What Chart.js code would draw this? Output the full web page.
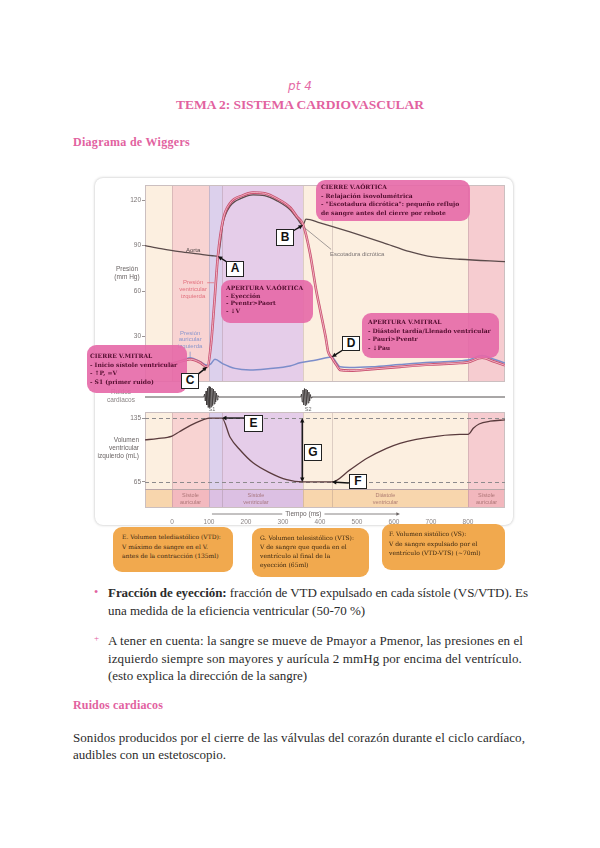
<!DOCTYPE html>
<html lang="es">
<head>
<meta charset="utf-8">
<script src="https://cdn.jsdelivr.net/npm/chart.js@4.4.1/dist/chart.umd.min.js"></script>
<style>
  html, body { margin:0; padding:0; background:#fff; }
  body { width:600px; height:848px; position:relative; overflow:hidden; font-family:"Liberation Serif", serif; color:#2b2b2b; }
  .abs { position:absolute; white-space:nowrap; }
  .pk { color:#e2629f; }
  .txt { font-size:13px; line-height:16px; }
  #frame { position:absolute; left:95px; top:178px; width:418px; height:347px; background:#fff; border-radius:8px; box-shadow:0 0 3px rgba(0,0,0,0.28); }
  #fig { position:absolute; left:80px; top:172px; width:445px; height:364px; }
  .note { position:absolute; box-sizing:border-box; background:rgba(229,104,167,0.9); border-radius:9px; color:#520d2e; font:bold 6px "DejaVu Serif", serif; white-space:nowrap; overflow:hidden; }
  .vol { position:absolute; box-sizing:border-box; background:#f1a94e; border-radius:9px; color:#3b2812; font:6px "DejaVu Serif", serif; white-space:nowrap; }
  .tag { position:absolute; box-sizing:border-box; background:#fff; border:1.5px solid #222; font:bold 12px "Liberation Sans", Arial, sans-serif; text-align:center; color:#111; }
</style>
</head>
<body>

<div class="abs pk" style="left:0;width:600px;text-align:center;top:79px;font:italic 12px 'DejaVu Sans',sans-serif;color:#e56aa6;">pt 4</div>
<div class="abs pk" data-w="248" style="left:176px;top:97px;font-weight:bold;font-size:13.5px;">TEMA 2: SISTEMA CARDIOVASCULAR</div>
<div class="abs pk" data-w="117" style="left:73px;top:135px;font-weight:bold;font-size:12px;">Diagrama de Wiggers</div>

<div id="frame"></div>
<div id="fig"><canvas id="wiggers" width="445" height="364"></canvas></div>

<!-- notas rosas -->
<div class="note" style="left:316px;top:180px;width:154px;height:41px;padding:3px 0 0 5px;line-height:8.7px;">CIERRE V.AÓRTICA<br>- Relajación isovolumétrica<br>- "Escotadura dicrótica": pequeño reflujo<br>de sangre antes del cierre por rebote</div>
<div class="note" style="left:221px;top:280px;width:92px;height:43px;padding:4px 0 0 5px;line-height:7.7px;">APERTURA V.AÓRTICA<br>- Eyección<br>- Pventr&gt;Paort<br>- ↓V</div>
<div class="note" style="left:87px;top:345px;width:100px;height:48px;padding:7px 0 0 3px;line-height:8.7px;">CIERRE V.MITRAL<br>- Inicio sístole ventricular<br>- ↑P, =V<br>- S1 (primer ruido)</div>
<div class="note" style="left:362px;top:313px;width:137px;height:45px;padding:5px 0 0 6px;line-height:8.7px;">APERTURA V.MITRAL<br>- Diástole tardía/Llenado ventricular<br>- Pauri&gt;Pventr<br>- ↓Pau</div>

<!-- letras -->
<div class="tag" style="left:226px;top:261px;width:18px;height:16px;line-height:13px;">A</div>
<div class="tag" style="left:276px;top:229px;width:18px;height:17px;line-height:14px;">B</div>
<div class="tag" style="left:181px;top:373px;width:18px;height:16px;line-height:13px;">C</div>
<div class="tag" style="left:342px;top:336px;width:18px;height:15px;line-height:12px;">D</div>
<div class="tag" style="left:244px;top:415px;width:19px;height:17px;line-height:14px;">E</div>
<div class="tag" style="left:349px;top:474px;width:18px;height:15px;line-height:12px;">F</div>
<div class="tag" style="left:304px;top:444px;width:18px;height:17px;line-height:14px;">G</div>

<!-- notas naranjas -->
<div class="vol" style="left:113px;top:527px;width:120px;height:45px;padding:5px 0 0 9px;line-height:9.5px;">E. Volumen telediastólico (VTD):<br>V máximo de sangre en el V.<br>antes de la contracción (135ml)</div>
<div class="vol" style="left:252px;top:528px;width:117px;height:49px;padding:5px 0 0 8px;line-height:9px;">G. Volumen telesistólico (VTS):<br>V de sangre que queda en el<br>ventrículo al final de la<br>eyección (65ml)</div>
<div class="vol" style="left:382px;top:524px;width:123px;height:46px;padding:5px 0 0 7px;line-height:9.5px;">F. Volumen sistólico (VS):<br>V de sangre expulsado por el<br>ventrículo (VTD-VTS) (~70ml)</div>

<!-- texto -->
<div class="abs pk" style="left:94px;top:585px;font-size:12px;">•</div>
<div class="abs txt" data-w="420" style="left:108px;top:585px;"><b>Fracción de eyección:</b> fracción de VTD expulsado en cada sístole (VS/VTD). Es</div>
<div class="abs txt" data-w="257" style="left:108px;top:603px;">una medida de la eficiencia ventricular (50-70 %)</div>
<div class="abs pk" style="left:94px;top:633px;font-size:9px;">+</div>
<div class="abs txt" data-w="415" style="left:108px;top:633px;">A tener en cuenta: la sangre se mueve de Pmayor a Pmenor, las presiones en el</div>
<div class="abs txt" data-w="414" style="left:108px;top:651px;">izquierdo siempre son mayores y aurícula 2 mmHg por encima del ventrículo.</div>
<div class="abs txt" data-w="199" style="left:108px;top:668px;">(esto explica la dirección de la sangre)</div>
<div class="abs pk" data-w="90" style="left:73px;top:698px;font-weight:bold;font-size:12px;">Ruidos cardiacos</div>
<div class="abs txt" data-w="452" style="left:73px;top:730px;">Sonidos producidos por el cierre de las válvulas del corazón durante el ciclo cardíaco,</div>
<div class="abs txt" data-w="153" style="left:73px;top:747px;">audibles con un estetoscopio.</div>

<script>
/* ---------- Datos (ms, mmHg, mL) ---------- */
const timeMin = -73, timeMax = 900;
const timeTicks = [0, 100, 200, 300, 400, 500, 600, 700, 800];
const pressureTicks = [30, 60, 90, 120];
const volumeTicks = [65, 135];

const aortaTime = [-73, -30, 20, 70, 110, 124, 138, 157, 190, 219, 250, 284, 320, 338, 354, 362, 400, 481, 570, 643, 705, 778, 900];
const aortaP    = [90, 88, 86, 84.5, 83.3, 83, 105, 116, 121.5, 123.5, 123, 119.5, 113.5, 108, 103.5, 107.5, 105, 99, 92, 86, 82.5, 81, 79.5];

const ventTime = [-73, 0, 30, 50, 75, 95, 105, 115, 124, 138, 157, 190, 219, 250, 284, 320, 338, 354, 373, 390, 400, 415, 422, 432, 445, 454, 480, 540, 616, 700, 778, 800, 838, 870, 900];
const ventP    = [11, 12, 14, 15, 13, 10, 24, 54, 83, 107, 118, 123, 125, 124.5, 121, 115, 109, 104, 85, 60, 48, 30, 20, 16, 11, 8, 7.5, 8.5, 10, 11.5, 12.5, 13, 16, 13.5, 11];

const atrTime = [-73, 0, 30, 50, 75, 95, 105, 116, 138, 170, 211, 260, 319, 346, 390, 432, 445, 454, 480, 540, 616, 700, 778, 800, 838, 870, 900];
const atrP    = [11.5, 12.5, 14.5, 16, 13.5, 11, 12, 15, 12, 9, 8, 8.8, 10.5, 12.7, 14.5, 16.5, 12.5, 10, 9.5, 10, 11.5, 13, 14, 14.5, 17.5, 15, 12.5];

const volTime = [-73, -40, 0, 20, 50, 80, 100, 135, 157, 184, 219, 265, 310, 354, 432, 480, 527, 580, 616, 660, 720, 778, 800, 815, 830, 860, 900];
const volV    = [111, 112.5, 115.3, 120, 127, 132.5, 135, 135, 114, 100, 86, 75, 67.5, 65, 65, 78, 91, 101.8, 107.3, 111.6, 115.3, 117, 117, 124, 128.5, 131.5, 133];

// ruidos S1 y S2
const soundTime = [-73,
  86, 88, 90, 92, 94, 96, 98, 100, 102, 104, 106, 108, 110, 112, 114, 116, 118, 120, 122, 124, 126,
  348, 350, 352, 354, 356, 358, 360, 362, 364, 366, 368, 370, 372, 374, 376, 378,
  900];
const soundAmp = [0,
  0, 0.3, -0.4, 0.6, -0.8, 0.9, -1.05, 1.05, -1.05, 1, -0.95, 0.9, -0.85, 0.8, -0.7, 0.6, -0.5, 0.4, -0.3, 0.15, 0,
  0, 0.3, -0.5, 0.7, -0.8, 0.85, -0.85, 0.8, -0.75, 0.7, -0.6, 0.5, -0.4, 0.25, -0.1, 0,
  0];

// fases del ciclo
const phaseBounds = [-73, 0, 100, 354, 800, 900];
const phaseNames  = [null, ["Sístole", "auricular"], ["Sístole", "ventricular"], ["Diástole", "ventricular"], ["Sístole", "auricular"]];
const eventLines  = [0, 100, 135, 354, 432, 800];

/* ---------- Estilos ---------- */
const phaseFill = ["#fcefe0", "#f8d3d2", "#e5cde9", "#fcefe0", "#f6ccd0"];
const bandFill  = ["#f8d6ad", "#f3b9bf", "#dcc0e3", "#f8d6ad", "#f2b7bd"];
const stripFill = "#dcd0ec";   // contracción isovolumétrica
const bandTop = 57.3;          // mL: límite de la franja de fases
const axisWidth = 65;

Chart.defaults.font.family = '"Liberation Sans", Arial, sans-serif';

const pts = (xs, ys) => xs.map((t, i) => ({ x: t, y: ys[i] }));
const px = (s, v) => s.getPixelForValue(v);

function arrow(ctx, x0, y0, x1, y1, head = 5) {
  const a = Math.atan2(y1 - y0, x1 - x0);
  ctx.beginPath(); ctx.moveTo(x0, y0); ctx.lineTo(x1 - Math.cos(a) * head * 0.8, y1 - Math.sin(a) * head * 0.8); ctx.stroke();
  ctx.beginPath();
  ctx.moveTo(x1, y1);
  ctx.lineTo(x1 - head * Math.cos(a - 0.45), y1 - head * Math.sin(a - 0.45));
  ctx.lineTo(x1 - head * Math.cos(a + 0.45), y1 - head * Math.sin(a + 0.45));
  ctx.closePath(); ctx.fill();
}

function lines(ctx, arr, x, y, lh) {
  arr.forEach((s, i) => ctx.fillText(s, x, y + i * lh));
}

// flechas de las letras: punto (datos) + desplazamiento del inicio (px)
const pointers = [
  { axis: "yP", t: 124, v: 83,    dx: 11,  dy: 7 },   // A
  { axis: "yP", t: 354, v: 103.6, dx: -10, dy: 6 },   // B
  { axis: "yP", t: 95,  v: 10,    dx: -10, dy: 8 },   // C
  { axis: "yP", t: 432, v: 16.5,  dx: 11,  dy: -7 },  // D
  { axis: "yV", t: 135, v: 135,   dx: 22,  dy: 0 },   // E
  { axis: "yV", t: 432, v: 65,    dx: 17,  dy: 1 },   // F
];

const wiggersPlugin = {
  id: "wiggers",
  beforeDatasetsDraw(chart) {
    const { ctx, scales: { x, yP, yV } } = chart;
    const L = px(x, timeMin), R = px(x, timeMax);
    const vMid = px(yV, bandTop);
    ctx.save();
    phaseBounds.slice(0, -1).forEach((t0, i) => {
      const x0 = px(x, t0), x1 = px(x, phaseBounds[i + 1]);
      ctx.fillStyle = phaseFill[i];
      ctx.fillRect(x0, yP.top, x1 - x0, yP.bottom - yP.top);
      ctx.fillRect(x0, yV.top, x1 - x0, vMid - yV.top);
      ctx.fillStyle = bandFill[i];
      ctx.fillRect(x0, vMid, x1 - x0, yV.bottom - vMid);
    });
    // franja isovolumétrica
    const s0 = px(x, 100), s1 = px(x, 135);
    ctx.fillStyle = stripFill;
    ctx.fillRect(s0, yP.top, s1 - s0, yP.bottom - yP.top);
    ctx.fillRect(s0, yV.top, s1 - s0, vMid - yV.top);

    ctx.strokeStyle = "rgba(140,115,120,0.35)";
    ctx.lineWidth = 0.8;
    eventLines.forEach(t => {
      const xx = Math.round(px(x, t)) + 0.5;
      ctx.beginPath();
      ctx.moveTo(xx, yP.top); ctx.lineTo(xx, yP.bottom);
      ctx.moveTo(xx, yV.top); ctx.lineTo(xx, yV.bottom);
      ctx.stroke();
    });

    ctx.strokeStyle = "#cbbfc0"; ctx.lineWidth = 1;
    ctx.strokeRect(L + 0.5, yP.top + 0.5, R - L - 1, yP.bottom - yP.top - 1);
    ctx.strokeRect(L + 0.5, yV.top + 0.5, R - L - 1, yV.bottom - yV.top - 1);
    ctx.strokeStyle = "#b8a6a8";
    ctx.beginPath(); ctx.moveTo(L, Math.round(vMid) + 0.5); ctx.lineTo(R, Math.round(vMid) + 0.5); ctx.stroke();

    // VTD / VTS
    ctx.strokeStyle = "#8c8a8c"; ctx.setLineDash([4, 3]);
    volumeTicks.forEach(v => {
      const yy = Math.round(px(yV, v)) + 0.5;
      ctx.beginPath(); ctx.moveTo(L, yy); ctx.lineTo(R, yy); ctx.stroke();
    });
    ctx.restore();
  },
  afterDatasetsDraw(chart) {
    const { ctx, chartArea, scales: { x, yP, yS, yV } } = chart;
    const sc = { yP, yV };
    ctx.save();
    ctx.textAlign = "center"; ctx.textBaseline = "middle";

    // etiquetas de curvas
    ctx.font = '6px "Liberation Sans", Arial, sans-serif';
    ctx.fillStyle = "#4e4444";
    ctx.fillText("Aorta", px(x, 57), px(yP, 86.8));
    ctx.fillStyle = "#e2707e";
    lines(ctx, ["Presión", "ventricular", "izquierda"], px(x, 57), px(yP, 66), 7);
    ctx.strokeStyle = "#e2707e"; ctx.lineWidth = 0.8;
    ctx.beginPath(); ctx.moveTo(px(x, 95), px(yP, 65.5)); ctx.lineTo(px(x, 114), px(yP, 65.5)); ctx.stroke();
    ctx.fillStyle = "#8a96cc";
    lines(ctx, ["Presión", "auricular", "izquierda"], px(x, 49), px(yP, 32.3), 6.5);
    ctx.strokeStyle = "#8a96cc";
    ctx.beginPath(); ctx.moveTo(px(x, 49), px(yP, 20)); ctx.lineTo(px(x, 49), px(yP, 16.3)); ctx.stroke();

    ctx.fillStyle = "#7b7474"; ctx.textAlign = "left";
    ctx.fillText("Escotadura dicrótica", px(x, 427), px(yP, 84.5));
    ctx.strokeStyle = "#8a8484";
    ctx.beginPath(); ctx.moveTo(px(x, 357), px(yP, 102)); ctx.lineTo(px(x, 430), px(yP, 87.5)); ctx.stroke();

    // títulos laterales
    ctx.textAlign = "center"; ctx.fillStyle = "#6a6464";
    ctx.font = '6.5px "Liberation Sans", Arial, sans-serif';
    lines(ctx, ["Presión", "(mm Hg)"], chartArea.left - 18, px(yP, 74.6), 8);
    ctx.fillStyle = "#8a8484";
    lines(ctx, ["Ruidos", "cardiacos"], chartArea.left - 24, px(yS, 0.5), 8);
    ctx.textAlign = "right"; ctx.fillStyle = "#6a6464";
    lines(ctx, ["Volumen", "ventricular", "izquierdo (mL)"], chartArea.left - 6, px(yV, 110.9), 8);

    // S1 / S2
    ctx.textAlign = "center"; ctx.fillStyle = "#6d6d6d";
    ctx.font = '5.5px "Liberation Sans", Arial, sans-serif';
    ctx.fillText("S1", px(x, 108), px(yS, -1.25));
    ctx.fillText("S2", px(x, 368), px(yS, -1.25));

    // fases
    ctx.fillStyle = "rgba(150,95,95,0.75)";
    const vMid = px(yV, bandTop), bandC = (vMid + yV.bottom) / 2;
    phaseNames.forEach((nm, i) => {
      if (!nm) return;
      const xc = (px(x, phaseBounds[i]) + px(x, phaseBounds[i + 1])) / 2;
      lines(ctx, nm, xc, bandC - 3.5, 7);
    });

    // eje de tiempo
    ctx.fillStyle = "#6a6464"; ctx.strokeStyle = "#6a6464"; ctx.lineWidth = 0.8;
    ctx.font = '6.5px "Liberation Sans", Arial, sans-serif';
    const ty = yV.bottom + 6, tx = px(x, 355);
    ctx.fillText("Tiempo (ms)", tx, ty);
    const tw = ctx.measureText("Tiempo (ms)").width / 2 + 3;
    ctx.beginPath(); ctx.moveTo(px(x, 108), ty); ctx.lineTo(tx - tw, ty); ctx.stroke();
    arrow(ctx, tx + tw, ty, px(x, 616), ty, 4);

    // flechas de letras
    ctx.strokeStyle = "#111"; ctx.fillStyle = "#111"; ctx.lineWidth = 1.4;
    pointers.forEach(p => {
      const tx1 = px(x, p.t), ty1 = px(sc[p.axis], p.v);
      arrow(ctx, tx1 + p.dx, ty1 + p.dy, tx1, ty1, 5);
    });
    // G: volumen sistólico
    const gx = px(x, 352);
    arrow(ctx, gx, px(yV, 100), gx, px(yV, 135), 5);
    arrow(ctx, gx, px(yV, 100), gx, px(yV, 65), 5);
    ctx.restore();
  }
};

const yBase = {
  type: "linear", position: "left", stack: "v",
  afterFit: s => { s.width = axisWidth; },
  border: { display: false },
};

new Chart(document.getElementById("wiggers"), {
  type: "line",
  data: {
    datasets: [
      { label: "Ruidos cardiacos", data: pts(soundTime, soundAmp), yAxisID: "yS", borderColor: "#3e3a3a", borderWidth: 0.9, tension: 0, cubicInterpolationMode: "default" },
      { label: "Volumen ventricular izquierdo", data: pts(volTime, volV), yAxisID: "yV", borderColor: "#5a3b3d", borderWidth: 1.3 },
      { label: "Presión ventricular izquierda", data: pts(ventTime, ventP), yAxisID: "yP", borderColor: "#f5bccb", borderWidth: 0.9 },
      { label: "Presión ventricular izquierda (borde)", data: pts(ventTime, ventP), yAxisID: "yP", borderColor: "#c8506f", borderWidth: 2.6 },
      { label: "Presión auricular izquierda", data: pts(atrTime, atrP), yAxisID: "yP", borderColor: "#7c8dca", borderWidth: 1.5 },
      { label: "Aorta", data: pts(aortaTime, aortaP), yAxisID: "yP", borderColor: "#5b4b4b", borderWidth: 1.3 },
    ]
  },
  options: {
    responsive: false, animation: false,
    elements: { point: { radius: 0 }, line: { cubicInterpolationMode: "monotone", fill: false } },
    plugins: { legend: { display: false }, tooltip: { enabled: false } },
    layout: { padding: { left: 0, right: 20, top: 13, bottom: 0 } },
    scales: {
      x: {
        type: "linear", min: timeMin, max: timeMax,
        afterBuildTicks: s => { s.ticks = timeTicks.map(v => ({ value: v })); },
        afterFit: s => { s.height = 28; },
        grid: { display: false, drawTicks: false }, border: { display: false },
        ticks: { color: "#8a8484", font: { size: 6.5 }, padding: 10, maxRotation: 0, autoSkip: false }
      },
      yP: {
        ...yBase, stackWeight: 197, weight: 3, min: 0, max: 130,
        afterBuildTicks: s => { s.ticks = pressureTicks.map(v => ({ value: v })); },
        grid: { drawOnChartArea: false, drawTicks: true, tickLength: 3, color: "#9a9494" },
        ticks: { color: "#7a7474", font: { size: 6.5 }, padding: 1 }
      },
      yS: {
        ...yBase, stackWeight: 30, weight: 2, min: -1.5, max: 1.5,
        grid: { display: false }, ticks: { display: false }
      },
      yV: {
        ...yBase, stackWeight: 96, weight: 1, min: 36.5, max: 141.6,
        afterBuildTicks: s => { s.ticks = volumeTicks.map(v => ({ value: v })); },
        grid: { drawOnChartArea: false, drawTicks: true, tickLength: 3, color: "#9a9494" },
        ticks: { color: "#7a7474", font: { size: 6.5 }, padding: 1 }
      }
    }
  },
  plugins: [wiggersPlugin]
});

/* ---------- Ajuste de ancho de las líneas de texto ---------- */
document.querySelectorAll("[data-w]").forEach(el => {
  const target = +el.dataset.w;
  const w = el.getBoundingClientRect().width;
  const n = el.textContent.length;
  el.style.letterSpacing = ((target - w) / n).toFixed(3) + "px";
});
</script>
</body>
</html>
